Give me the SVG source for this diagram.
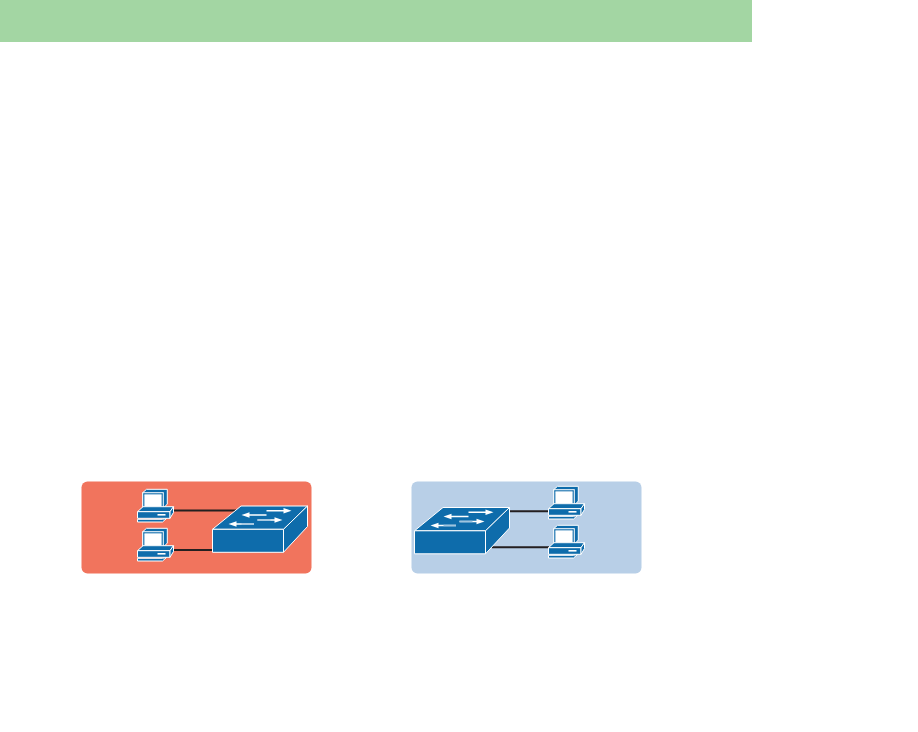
<svg xmlns="http://www.w3.org/2000/svg" width="918" height="732" viewBox="0 0 918 732">
<style>
.b{fill:#0e6cab;stroke:#fff;stroke-width:1;stroke-linejoin:round}
.l{stroke:#231f20;stroke-width:2;fill:none}
.g{fill:none;stroke:#9fc4de;stroke-width:1.4}
.h{fill:#fff}
</style>
<defs>
<g id="pc">
<path class="b" d="M5.200 3.700L9 0.300H29.800V15L25.800 19.300H5.200Z"/>
<rect x="5.200" y="3.700" width="20.600" height="15.600" fill="#0e6cab" stroke="#fff"/>
<rect x="6.800" y="5.200" width="17.400" height="12.600" rx="1" fill="#fff" stroke="#8fbbd9" stroke-width=".6"/>
<path class="b" d="M5.500 17.700H36L32.500 22.700H0Z"/>
<path class="b" d="M0 22.700H32.500V29.300H0Z"/>
<path class="b" d="M32.500 22.700L36 17.700V23.500L32.500 29.300Z"/>
<rect x="20" y="25" width="8" height="1.600" fill="#fff"/>
<path class="b" d="M0 30.300H25L29 29.500L25 33H0Z" stroke-width=".8"/>
</g>
<g id="sw">
<path class="b" d="M0 23.300L28.500 0H95L71 23.300Z"/>
<path class="b" d="M71 23.300L95 0V20.500L71 46.300Z"/>
<rect class="b" x="0" y="23.300" width="71" height="23"/>
<path class="h" d="M29 9L37 6.200V8.300H54V9.700H37V11.800Z"/>
<path class="h" d="M79 4.700L71 1.900V4H54V5.400H71V7.500Z"/>
<path class="h" d="M16 18L24 15.200V17.300H41.500V18.700H24V20.800Z"/>
<path class="h" d="M70 14L62 11.200V13.300H45V14.700H62V16.800Z"/>
<path class="g" d="M29 18H41.500M45 14H58"/>
</g>
</defs>
<rect id="banner" x="0" y="0" width="752" height="42" fill="#a3d6a3"/>
<g id="panel-left"><rect x="81.500" y="481.500" width="230" height="92" rx="6" fill="#f1745d"/></g>
<g id="panel-right"><rect x="411.500" y="481.500" width="230" height="92" rx="6" fill="#b8cfe7"/></g>
<g id="connectors">
<path class="l" d="M173 510.500H236M173 550H213"/>
<path class="l" d="M509 511.300H549M492 547.300H549"/>
</g>
<use id="pc-left-top" href="#pc" transform="translate(137.500 489)"/>
<use id="pc-left-bottom" href="#pc" transform="translate(137.500 528)"/>
<use id="switch-left" href="#sw" transform="translate(212.500 506)"/>
<use id="switch-right" href="#sw" transform="translate(414.500 507.500)"/>
<use id="pc-right-top" href="#pc" transform="translate(548.500 486)"/>
<use id="pc-right-bottom" href="#pc" transform="translate(548.500 525)"/>
</svg>
